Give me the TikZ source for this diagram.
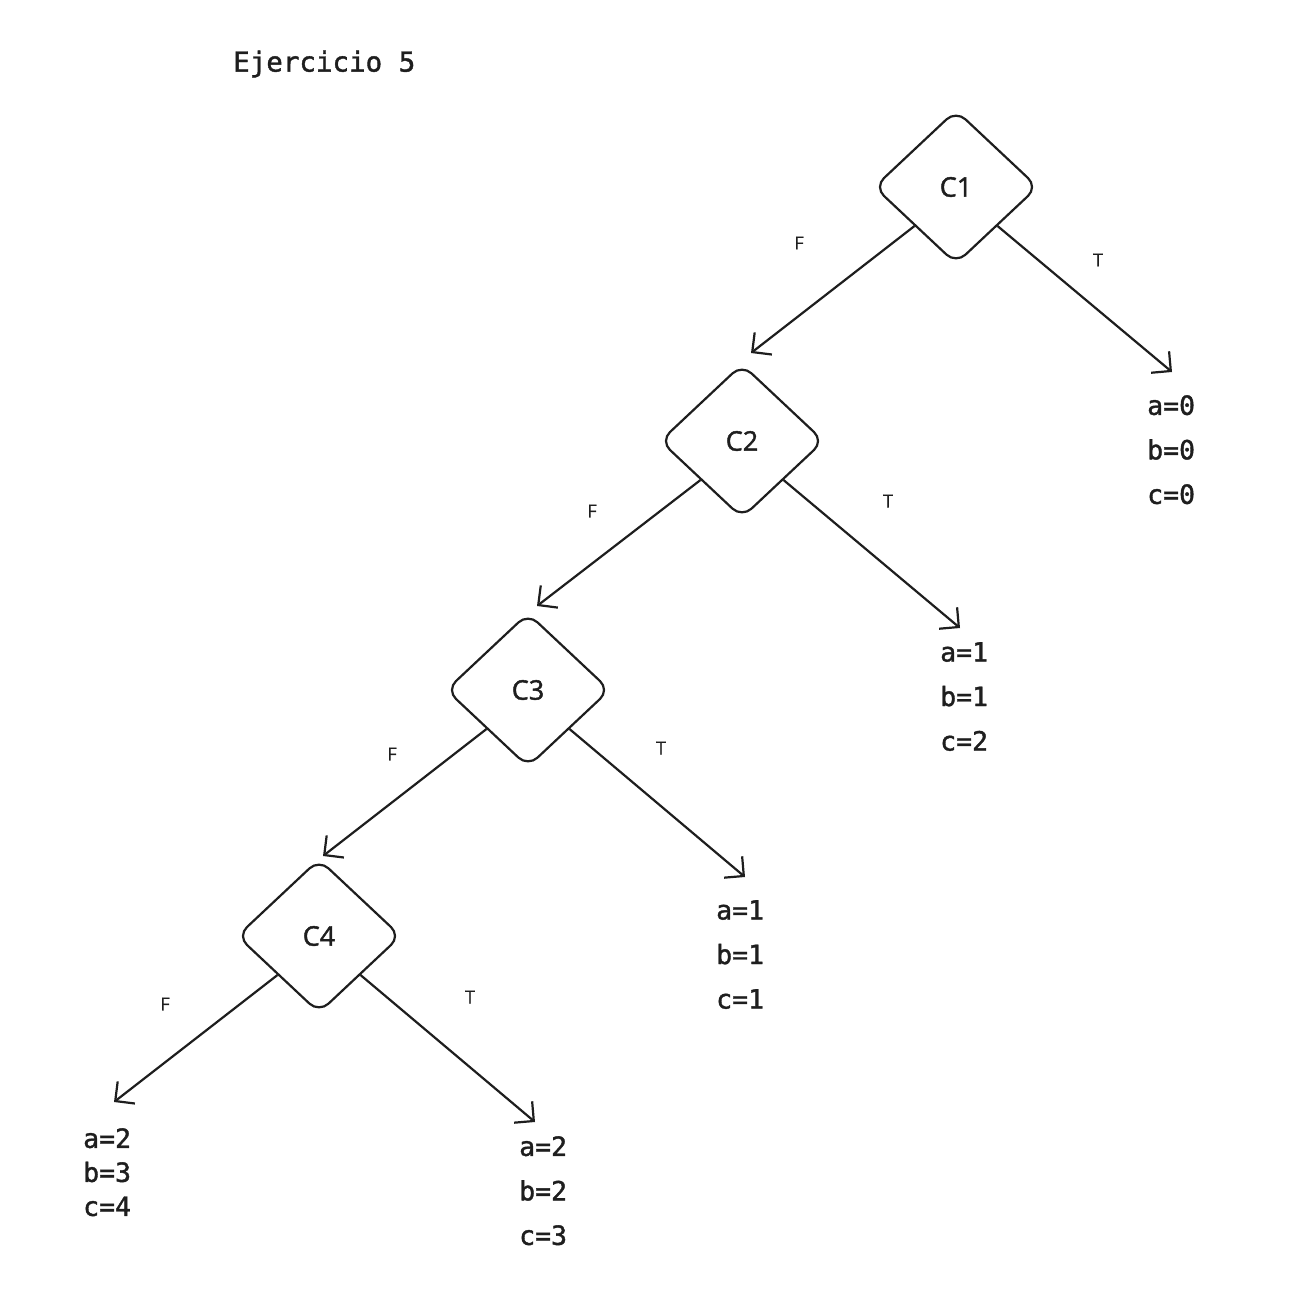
\documentclass[tikz,border=0pt]{standalone}
\usepackage{fontspec}
\setmainfont{Open Sans}
\newfontfamily\csans{Open Sans}[FakeBold=1.6]
\newfontfamily\lsans{Open Sans}[FakeBold=0.8]
\newfontfamily\monof{DejaVu Sans Mono}[FakeBold=1.4]
\usetikzlibrary{shapes.geometric,arrows.meta}
\definecolor{ink}{HTML}{1E1E1E}
\begin{document}
\begin{tikzpicture}[x=1pt,y=-1pt,color=ink,
  cond/.style={diamond,draw,line width=2.2pt,rounded corners=13pt,inner sep=0pt,
    minimum width=164pt,minimum height=154pt,font=\csans\fontsize{27}{32}\selectfont},
  edge/.style={line width=2.2pt,-{Straight Barb[length=14pt,width=28pt,line width=2.2pt]}},
  lbl/.style={font=\lsans\fontsize{18}{22}\selectfont,inner sep=0pt},
  leaf/.style={anchor=north west,align=left,inner sep=0pt,font=\monof\fontsize{26.5}{44.5}\selectfont},
  leaftight/.style={anchor=north west,align=left,inner sep=0pt,font=\monof\fontsize{26.5}{34}\selectfont}]
\useasboundingbox (0,0) rectangle (1290,1290);
\node[anchor=west,inner sep=0pt,font=\monof\fontsize{27.5}{32}\selectfont] (title) at (233,64) {Ejercicio 5};

\node[cond] (c1) at (956,187) {C1};
\node[cond] (c2) at (742,441) {C2};
\node[cond] (c3) at (528,690) {C3};
\node[cond] (c4) at (319,936) {C4};

\node[leaf] (l1) at (1147,395) {a=0\\b=0\\c=0};
\node[leaf] (l2) at (940,642) {a=1\\b=1\\c=2};
\node[leaf] (l3) at (716,900) {a=1\\b=1\\c=1};
\node[leaftight] (l4) at (83,1128) {a=2\\b=3\\c=4};
\node[leaf] (l5) at (519,1136) {a=2\\b=2\\c=3};

\coordinate (e1f) at (751,353);
\coordinate (e1t) at (1172,372);
\coordinate (e2f) at (537,606);
\coordinate (e2t) at (960,628);
\coordinate (e3f) at (323,856);
\coordinate (e3t) at (745,877);
\coordinate (e4f) at (114,1102);
\coordinate (e4t) at (535,1122);

\draw[edge] (c1.south west) -- (e1f);
\draw[edge] (c1.south east) -- (e1t);
\draw[edge] (c2.south west) -- (e2f);
\draw[edge] (c2.south east) -- (e2t);
\draw[edge] (c3.south west) -- (e3f);
\draw[edge] (c3.south east) -- (e3t);
\draw[edge] (c4.south west) -- (e4f);
\draw[edge] (c4.south east) -- (e4t);

\node[lbl] (f1) at (799,243) {F};
\node[lbl] (t1) at (1098,260) {T};
\node[lbl] (f2) at (592,511) {F};
\node[lbl] (t2) at (888,501) {T};
\node[lbl] (f3) at (392,754) {F};
\node[lbl] (t3) at (661,748) {T};
\node[lbl] (f4) at (165,1004) {F};
\node[lbl] (t4) at (470,997) {T};
\end{tikzpicture}
\end{document}
